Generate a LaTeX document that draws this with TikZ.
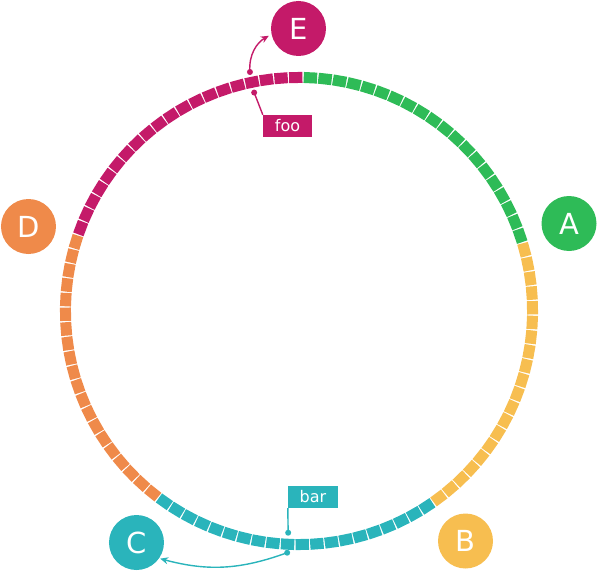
\documentclass[tikz,border=0pt]{standalone}
\usepackage{fontspec}
\setmainfont{DejaVu Sans}
\usetikzlibrary{arrows.meta}
\definecolor{cgreen}{HTML}{2EBB57}
\definecolor{cyellow}{HTML}{F7BE50}
\definecolor{ccyan}{HTML}{2AB4BB}
\definecolor{corange}{HTML}{EF8A4A}
\definecolor{cpink}{HTML}{C41A69}
\begin{document}
\begin{tikzpicture}[x=1pt,y=1pt,
  hub/.style={circle,minimum size=55pt,inner sep=0pt,text=white,font=\fontsize{29}{31}\selectfont},
  tag/.style={minimum width=49pt,minimum height=22pt,inner sep=0pt,text=white,font=\fontsize{16}{18}\selectfont},
  pin/.style={circle,inner sep=0pt,minimum size=6pt},
  conn/.style={line width=1.4pt},
  arr/.style={line width=1.4pt,-{Stealth[length=8pt,width=7pt]}}]
\useasboundingbox (-299,-260) rectangle (298,311);
% ring segments
\foreach \k in {0,...,99}{
  \pgfmathsetmacro{\ang}{89-1.8-3.6*\k}
  \pgfmathtruncatemacro{\grp}{floor(\k/20)}
  \ifcase\grp \def\col{cgreen}\or \def\col{cyellow}\or \def\col{ccyan}\or \def\col{corange}\or \def\col{cpink}\fi
  \fill[\col, rotate=\ang] (228,-6.7) rectangle (239,6.7);
}
% hubs
\node[hub,fill=cgreen] (A) at (270,87.5) {A};
\node[hub,fill=cyellow] (B) at (166.5,-230) {B};
\node[hub,fill=ccyan] (C) at (-162.5,-231.5) {C};
\node[hub,fill=corange] (D) at (-270.5,84.5) {D};
\node[hub,fill=cpink] (E) at (-0.5,282.5) {E};
% tags
\node[tag,fill=cpink] (foo) at (-11.5,185) {foo};
\node[tag,fill=ccyan,minimum width=50pt] (bar) at (14,-186) {bar};
% pins
\node[pin,fill=cpink] (fooin) at (101.6:223) {};
\node[pin,fill=cpink] (eout) at (101.6:244) {};
\node[pin,fill=ccyan] (barin) at (267.2:222) {};
\node[pin,fill=ccyan] (cout) at (267.2:242) {};
% connectors
\draw[conn,cpink] (fooin.center) -- (foo.north west);
\draw[conn,ccyan] (barin.center) -- (bar.south west);
\draw[arr,cpink,shorten >=3pt] (eout.center) to[out=95,in=210] (E.192);
\draw[arr,ccyan,shorten >=1pt] (cout.center) to[out=200,in=-15] (C.-35);
\end{tikzpicture}
\end{document}
